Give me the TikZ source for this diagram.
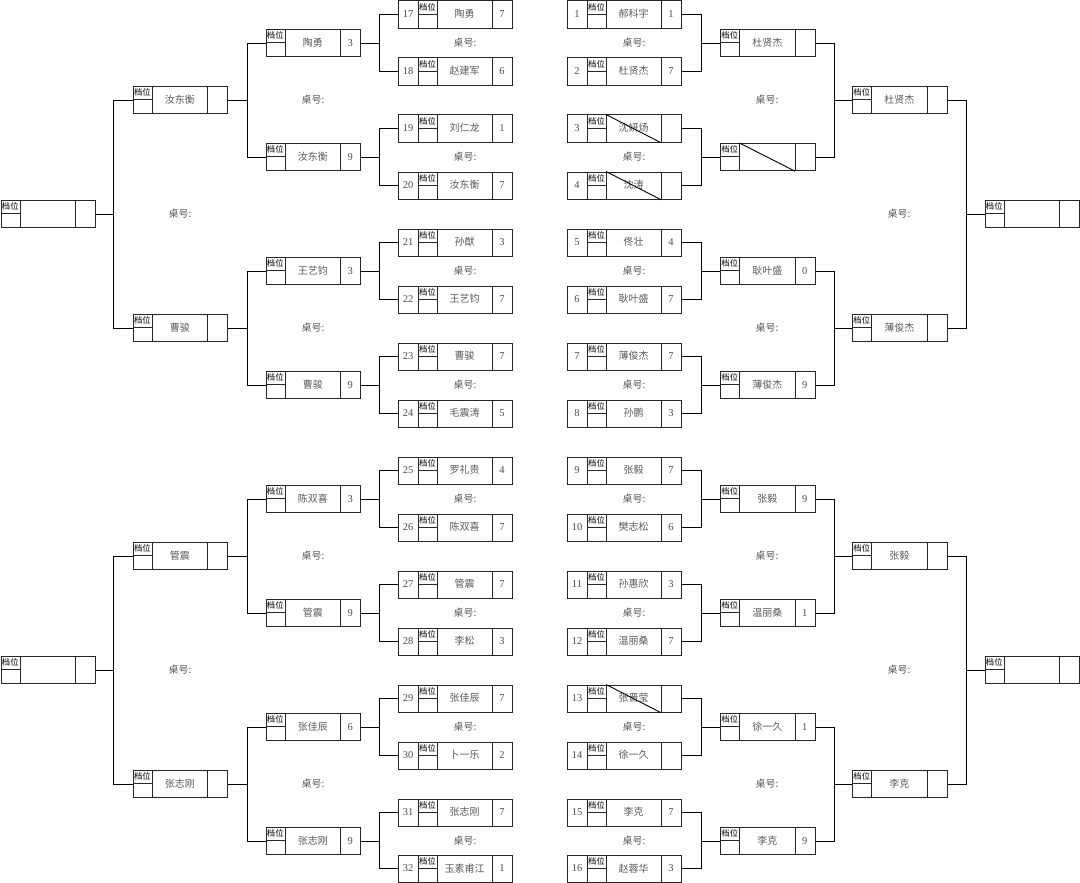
\documentclass[tikz,border=0pt]{standalone}
\usepackage{fontspec}
\setmainfont{Noto Sans CJK SC}
\newfontfamily\numfont{Liberation Serif}
\usetikzlibrary{calc}
\tikzset{
  bx/.style={draw=black!85, line width=1pt, rectangle, inner sep=0pt, anchor=north west, minimum height=27.2pt},
  cellline/.style={draw=black!85, line width=1pt},
  conn/.style={draw=black, line width=0.9pt},
  nametxt/.style={inner sep=0pt, text=black!65, font=\fontsize{10}{12}\selectfont},
  numtxt/.style={inner sep=0pt, text=black!70, font=\numfont\fontsize{10.5}{12}\selectfont},
  dwtxt/.style={inner sep=0pt, text=black, font=\fontsize{8.3}{9}\selectfont},
  zhtxt/.style={inner sep=0pt, text=black!65, font=\fontsize{10}{12}\selectfont},
  strikeln/.style={draw=black, line width=0.9pt},
}
% round-1 box: id, X, Y(top), table number, name, score
\newcommand\Rone[6]{%
  \node[bx, minimum width=114pt] (#1) at (#2,#3) {};
  \draw[cellline] (#2+20,#3) -- (#2+20,#3+27.2) (#2+39,#3) -- (#2+39,#3+27.2)
    (#2+94,#3) -- (#2+94,#3+27.2) (#2+20,#3+13.6) -- (#2+39,#3+13.6);
  \node[numtxt] (#1-n) at (#2+10,#3+13.6) {#4};
  \node[dwtxt] (#1-d) at (#2+29.5,#3+6.8) {档位};
  \node[nametxt] (#1-m) at (#2+66.5,#3+13.6) {#5};
  \node[numtxt] (#1-s) at (#2+104,#3+13.6) {#6};
}
% later-round box: id, X, Y(top), name, score
\newcommand\Rtwo[5]{%
  \node[bx, minimum width=94.5pt] (#1) at (#2,#3) {};
  \draw[cellline] (#2+19.5,#3) -- (#2+19.5,#3+27.2) (#2+75,#3) -- (#2+75,#3+27.2)
    (#2,#3+13.6) -- (#2+19.5,#3+13.6);
  \node[dwtxt] (#1-d) at (#2+9.75,#3+6.8) {档位};
  \node[nametxt] (#1-m) at (#2+47.25,#3+13.6) {#4};
  \node[numtxt] (#1-s) at (#2+84.75,#3+13.6) {#5};
}
\newcommand\StrOne[1]{\draw[strikeln] ($(#1.north west)+(39,0)$) -- ($(#1.south west)+(94,0)$);}
\newcommand\StrTwo[1]{\draw[strikeln] ($(#1.north west)+(19.5,0)$) -- ($(#1.south west)+(75,0)$);}
\begin{document}
\begin{tikzpicture}[x=1pt,y=-1pt]
\useasboundingbox (0,0) rectangle (1080,883);
% ---------- left round 1 ----------
\Rone{la0}{398}{0.5}{17}{陶勇}{7}
\Rone{la1}{398}{57.5}{18}{赵建军}{6}
\Rone{la2}{398}{114.5}{19}{刘仁龙}{1}
\Rone{la3}{398}{171.5}{20}{汝东衡}{7}
\Rone{la4}{398}{228.5}{21}{孙猷}{3}
\Rone{la5}{398}{285.5}{22}{王艺钧}{7}
\Rone{la6}{398}{342.5}{23}{曹骏}{7}
\Rone{la7}{398}{399.5}{24}{毛震涛}{5}
\Rone{la8}{398}{456.5}{25}{罗礼贵}{4}
\Rone{la9}{398}{513.5}{26}{陈双喜}{7}
\Rone{la10}{398}{570.5}{27}{管震}{7}
\Rone{la11}{398}{627.5}{28}{李松}{3}
\Rone{la12}{398}{684.5}{29}{张佳辰}{7}
\Rone{la13}{398}{741.5}{30}{卜一乐}{2}
\Rone{la14}{398}{798.5}{31}{张志刚}{7}
\Rone{la15}{398}{854.6}{32}{玉素甫江}{1}
% ---------- right round 1 ----------
\Rone{ra0}{567}{0.5}{1}{郝科宇}{1}
\Rone{ra1}{567}{57.5}{2}{杜贤杰}{7}
\Rone{ra2}{567}{114.5}{3}{沈妍炀}{}
\Rone{ra3}{567}{171.5}{4}{沈涛}{}
\Rone{ra4}{567}{228.5}{5}{佟壮}{4}
\Rone{ra5}{567}{285.5}{6}{耿叶盛}{7}
\Rone{ra6}{567}{342.5}{7}{薄俊杰}{7}
\Rone{ra7}{567}{399.5}{8}{孙鹏}{3}
\Rone{ra8}{567}{456.5}{9}{张毅}{7}
\Rone{ra9}{567}{513.5}{10}{樊志松}{6}
\Rone{ra10}{567}{570.5}{11}{孙惠欣}{3}
\Rone{ra11}{567}{627.5}{12}{温丽桑}{7}
\Rone{ra12}{567}{684.5}{13}{张晋莹}{}
\Rone{ra13}{567}{741.5}{14}{徐一久}{}
\Rone{ra14}{567}{798.5}{15}{李克}{7}
\Rone{ra15}{567}{854.6}{16}{赵蓉华}{3}
\StrOne{ra2}
\StrOne{ra3}
\StrOne{ra12}
% ---------- left round 2 ----------
\Rtwo{lb0}{265.5}{29}{陶勇}{3}
\Rtwo{lb1}{265.5}{143}{汝东衡}{9}
\Rtwo{lb2}{265.5}{257}{王艺钧}{3}
\Rtwo{lb3}{265.5}{371}{曹骏}{9}
\Rtwo{lb4}{265.5}{485}{陈双喜}{3}
\Rtwo{lb5}{265.5}{599}{管震}{9}
\Rtwo{lb6}{265.5}{713}{张佳辰}{6}
\Rtwo{lb7}{265.5}{827}{张志刚}{9}
% ---------- right round 2 ----------
\Rtwo{rb0}{720}{29}{杜贤杰}{}
\Rtwo{rb1}{720}{143}{}{}
\Rtwo{rb2}{720}{257}{耿叶盛}{0}
\Rtwo{rb3}{720}{371}{薄俊杰}{9}
\Rtwo{rb4}{720}{485}{张毅}{9}
\Rtwo{rb5}{720}{599}{温丽桑}{1}
\Rtwo{rb6}{720}{713}{徐一久}{1}
\Rtwo{rb7}{720}{827}{李克}{9}
\StrTwo{rb1}
% ---------- round 3 ----------
\Rtwo{lc0}{132.7}{86}{汝东衡}{}
\Rtwo{lc1}{132.7}{314}{曹骏}{}
\Rtwo{lc2}{132.7}{542}{管震}{}
\Rtwo{lc3}{132.7}{770}{张志刚}{}
\Rtwo{rc0}{852}{86}{杜贤杰}{}
\Rtwo{rc1}{852}{314}{薄俊杰}{}
\Rtwo{rc2}{852}{542}{张毅}{}
\Rtwo{rc3}{852}{770}{李克}{}
% ---------- finals ----------
\Rtwo{ld0}{0.5}{200}{}{}
\Rtwo{ld1}{0.5}{656}{}{}
\Rtwo{rd0}{984.5}{200}{}{}
\Rtwo{rd1}{984.5}{656}{}{}
% ---------- connectors ----------
\foreach \j in {0,...,7}{
  \pgfmathtruncatemacro\ia{2*\j}
  \pgfmathtruncatemacro\ib{2*\j+1}
  \draw[conn] (la\ia.west) -- ++(-19,0) |- (lb\j.east);
  \draw[conn] (la\ib.west) -- ++(-19,0) |- (lb\j.east);
  \draw[conn] (ra\ia.east) -- ++(19,0) |- (rb\j.west);
  \draw[conn] (ra\ib.east) -- ++(19,0) |- (rb\j.west);
}
\foreach \j in {0,...,3}{
  \pgfmathtruncatemacro\ia{2*\j}
  \pgfmathtruncatemacro\ib{2*\j+1}
  \draw[conn] (lb\ia.west) -- ++(-18.5,0) |- (lc\j.east);
  \draw[conn] (lb\ib.west) -- ++(-18.5,0) |- (lc\j.east);
  \draw[conn] (rb\ia.east) -- ++(19,0) |- (rc\j.west);
  \draw[conn] (rb\ib.east) -- ++(19,0) |- (rc\j.west);
}
\foreach \j in {0,1}{
  \pgfmathtruncatemacro\ia{2*\j}
  \pgfmathtruncatemacro\ib{2*\j+1}
  \draw[conn] (lc\ia.west) -- ++(-19.4,0) |- (ld\j.east);
  \draw[conn] (lc\ib.west) -- ++(-19.4,0) |- (ld\j.east);
  \draw[conn] (rc\ia.east) -- ++(19,0) |- (rd\j.west);
  \draw[conn] (rc\ib.east) -- ++(19,0) |- (rd\j.west);
}
% ---------- table labels ----------
\foreach \j in {0,...,7}{
  \pgfmathsetmacro\yy{114*\j+42.6}
  \node[zhtxt] (zla\j) at (465,\yy) {桌号:};
  \node[zhtxt] (zra\j) at (634,\yy) {桌号:};
}
\foreach \j in {0,...,3}{
  \pgfmathsetmacro\yy{228*\j+99.6}
  \node[zhtxt] (zlb\j) at (313,\yy) {桌号:};
  \node[zhtxt] (zrb\j) at (767,\yy) {桌号:};
}
\foreach \j in {0,1}{
  \pgfmathsetmacro\yy{456*\j+213.6}
  \node[zhtxt] (zlc\j) at (180,\yy) {桌号:};
  \node[zhtxt] (zrc\j) at (899,\yy) {桌号:};
}
\end{tikzpicture}
\end{document}
